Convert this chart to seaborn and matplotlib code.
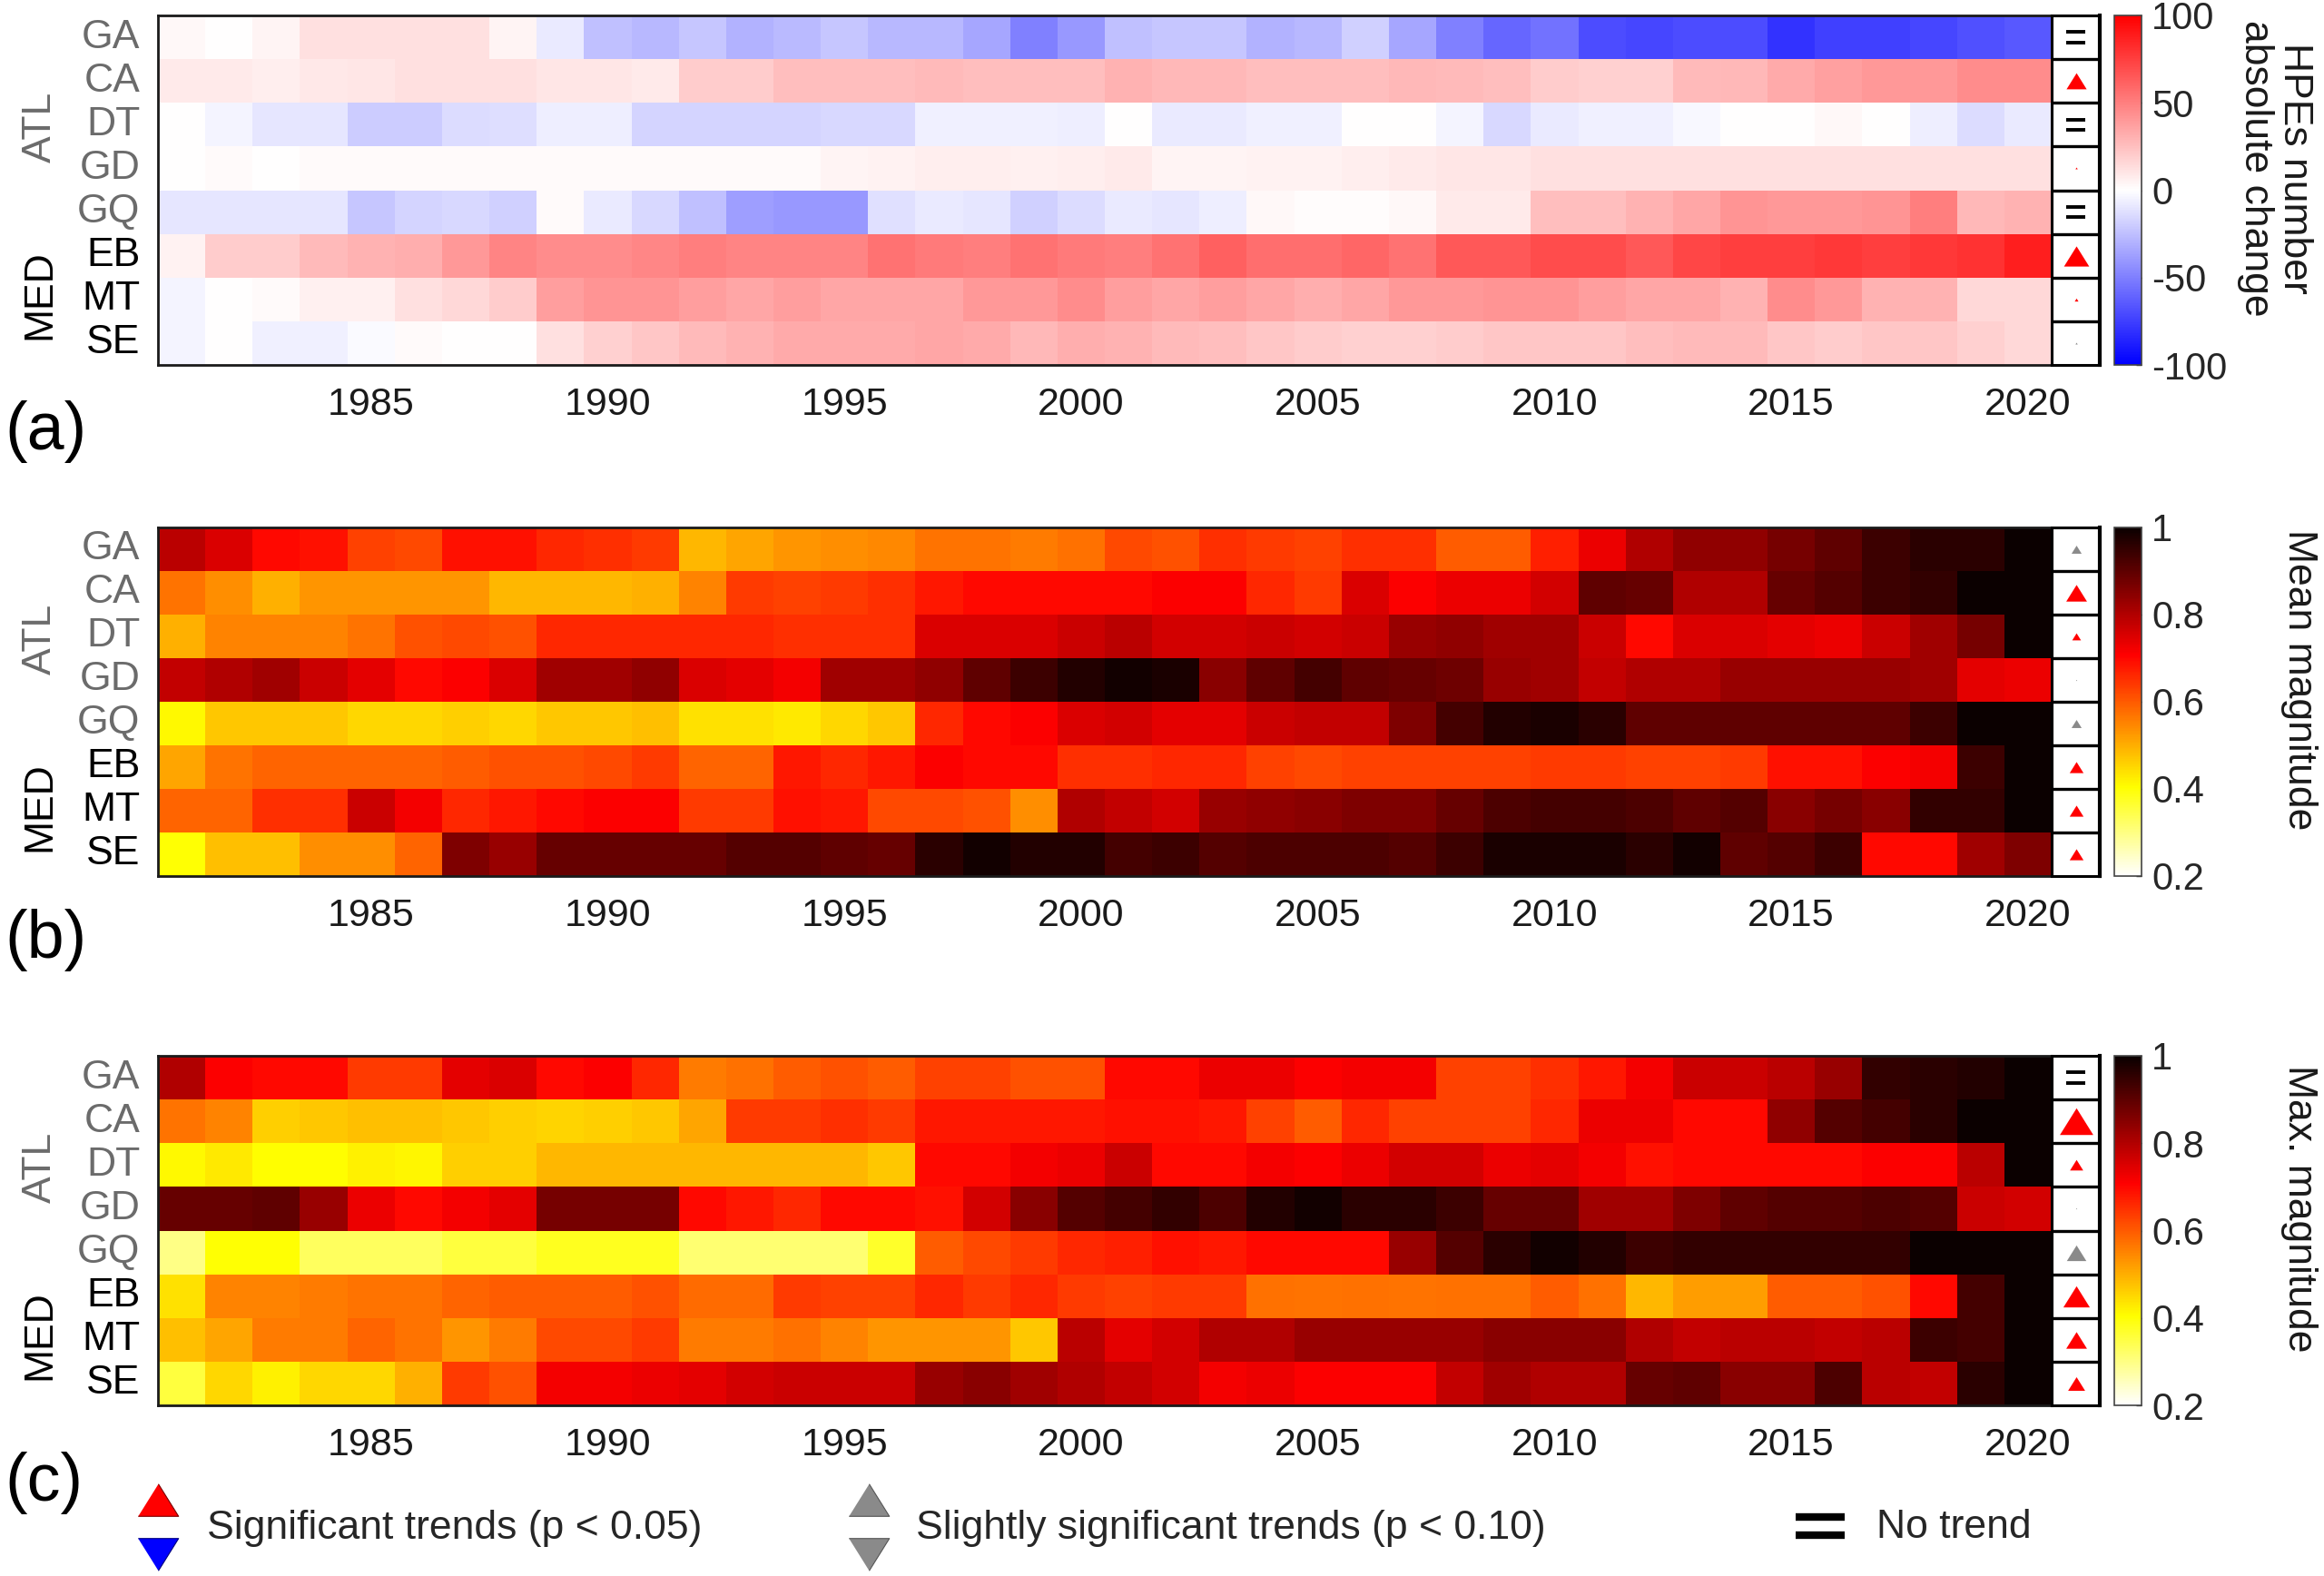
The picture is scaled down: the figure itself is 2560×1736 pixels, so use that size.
import numpy as np
import pandas as pd
import matplotlib
matplotlib.use("Agg")
import matplotlib.pyplot as plt
import seaborn as sns
from matplotlib.transforms import blended_transform_factory

sns.set_style("white")
plt.rcParams['font.family'] = ['Liberation Sans', 'DejaVu Sans']

# ---------------- data ----------------
years = list(range(1981, 2021))
regions = ['GA', 'CA', 'DT', 'GD', 'GQ', 'EB', 'MT', 'SE']
region_colors = ['#6b6b6b'] * 5 + ['#000000'] * 3
tick_years = [1985, 1990, 1995, 2000, 2005, 2010, 2015, 2020]

# (a) HPEs number absolute change
a_GA = [3, 0, 4, 12, 12, 12, 12, 4, -8, -25, -28, -22, -30, -27, -22, -28, -28, -35, -50, -40, -25,
        -22, -22, -30, -28, -18, -35, -50, -60, -55, -70, -72, -70, -70, -80, -75, -75, -72, -68, -65]
a_CA = [8, 8, 7, 9, 10, 12, 12, 12, 10, 10, 8, 20, 20, 25, 25, 25, 27, 25, 25, 25, 30,
        28, 28, 25, 25, 25, 28, 27, 25, 20, 18, 18, 27, 28, 33, 37, 40, 40, 45, 45]
a_DT = [0, -4, -10, -10, -20, -20, -14, -13, -7, -7, -17, -17, -17, -17, -15, -15, -6, -6, -6, -7, 0,
        -8, -8, -6, -6, 0, 0, -4, -15, -8, -6, -6, -3, 0, 0, 3, 0, -7, -14, -8]
a_GD = [0, 2, 0, 2, 2, 2, 2, 2, 2, 2, 2, 2, 2, 2, 4, 5, 7, 7, 6, 7, 8,
        4, 4, 5, 5, 7, 8, 10, 10, 12, 12, 12, 12, 12, 12, 12, 12, 12, 12, 12]
a_GQ = [-10, -10, -10, -10, -22, -17, -15, -18, 2, -8, -15, -25, -38, -40, -40, -12, -8, -10, -18, -14, -8,
        -10, -7, 3, 1, 1, 3, 8, 8, 25, 25, 30, 35, 42, 40, 40, 42, 50, 28, 30]
a_EB = [5, 20, 20, 27, 30, 32, 40, 48, 45, 45, 47, 50, 48, 48, 48, 55, 52, 50, 55, 52, 50,
        55, 62, 57, 57, 60, 55, 65, 65, 70, 70, 65, 72, 75, 75, 78, 75, 78, 80, 88]
a_MT = [-4, 0, 2, 6, 6, 12, 15, 20, 38, 42, 42, 38, 35, 38, 35, 35, 35, 40, 40, 45, 38,
        35, 38, 35, 32, 35, 40, 40, 42, 42, 38, 35, 35, 30, 45, 40, 30, 30, 15, 15]
a_SE = [-4, 0, -6, -6, -2, 2, 0, 0, 12, 18, 22, 27, 30, 33, 33, 33, 35, 33, 28, 32, 30,
        27, 25, 22, 20, 18, 18, 20, 22, 22, 22, 25, 27, 27, 22, 20, 22, 22, 18, 15]

# (b) Mean magnitude
b_GA = [0.79, 0.75, 0.70, 0.69, 0.63, 0.62, 0.69, 0.69, 0.66, 0.65, 0.64, 0.49, 0.51, 0.53, 0.54, 0.545, 0.57, 0.57, 0.56, 0.575, 0.62,
        0.61, 0.65, 0.64, 0.63, 0.65, 0.65, 0.60, 0.60, 0.67, 0.73, 0.80, 0.84, 0.84, 0.87, 0.90, 0.94, 0.96, 0.96, 1.0]
b_CA = [0.57, 0.54, 0.50, 0.53, 0.53, 0.53, 0.53, 0.49, 0.49, 0.49, 0.50, 0.55, 0.64, 0.63, 0.64, 0.65, 0.68, 0.70, 0.70, 0.70, 0.70,
        0.71, 0.71, 0.66, 0.64, 0.75, 0.71, 0.73, 0.73, 0.76, 0.90, 0.89, 0.80, 0.80, 0.89, 0.91, 0.94, 0.95, 1.0, 1.0]
b_DT = [0.50, 0.55, 0.55, 0.55, 0.57, 0.61, 0.62, 0.61, 0.66, 0.66, 0.66, 0.66, 0.66, 0.65, 0.65, 0.65, 0.75, 0.75, 0.75, 0.77, 0.79,
        0.76, 0.76, 0.77, 0.76, 0.77, 0.83, 0.84, 0.82, 0.82, 0.77, 0.70, 0.75, 0.75, 0.74, 0.73, 0.77, 0.82, 0.87, 1.0]
b_GD = [0.78, 0.80, 0.82, 0.77, 0.74, 0.70, 0.71, 0.75, 0.82, 0.82, 0.84, 0.75, 0.74, 0.72, 0.82, 0.82, 0.84, 0.90, 0.94, 0.97, 0.99,
        0.98, 0.85, 0.90, 0.93, 0.90, 0.89, 0.88, 0.83, 0.82, 0.78, 0.80, 0.80, 0.83, 0.83, 0.83, 0.83, 0.82, 0.74, 0.73]
b_GQ = [0.41, 0.47, 0.47, 0.47, 0.45, 0.45, 0.46, 0.45, 0.47, 0.47, 0.48, 0.44, 0.44, 0.43, 0.45, 0.47, 0.66, 0.70, 0.71, 0.75, 0.76,
        0.74, 0.74, 0.77, 0.78, 0.78, 0.86, 0.93, 0.97, 0.98, 0.96, 0.90, 0.90, 0.90, 0.90, 0.90, 0.90, 0.94, 1.0, 1.0]
b_EB = [0.51, 0.57, 0.59, 0.59, 0.59, 0.59, 0.60, 0.61, 0.61, 0.62, 0.64, 0.59, 0.59, 0.68, 0.66, 0.68, 0.71, 0.70, 0.70, 0.65, 0.65,
        0.66, 0.66, 0.63, 0.62, 0.63, 0.63, 0.63, 0.63, 0.64, 0.64, 0.63, 0.63, 0.64, 0.69, 0.69, 0.71, 0.72, 0.94, 1.0]
b_MT = [0.59, 0.59, 0.65, 0.65, 0.77, 0.72, 0.66, 0.68, 0.70, 0.71, 0.71, 0.64, 0.64, 0.69, 0.68, 0.62, 0.62, 0.61, 0.54, 0.80, 0.78,
        0.76, 0.83, 0.84, 0.85, 0.86, 0.86, 0.89, 0.92, 0.93, 0.93, 0.92, 0.90, 0.91, 0.85, 0.87, 0.85, 0.95, 0.95, 1.0]
b_SE = [0.40, 0.48, 0.48, 0.54, 0.54, 0.59, 0.86, 0.83, 0.89, 0.89, 0.89, 0.89, 0.91, 0.91, 0.90, 0.89, 0.96, 0.99, 0.97, 0.97, 0.93,
        0.94, 0.91, 0.92, 0.92, 0.92, 0.91, 0.94, 0.98, 0.98, 0.98, 0.96, 0.99, 0.90, 0.91, 0.94, 0.70, 0.70, 0.82, 0.86]

# (c) Max. magnitude
c_GA = [0.80, 0.71, 0.70, 0.70, 0.64, 0.64, 0.74, 0.75, 0.70, 0.71, 0.66, 0.56, 0.575, 0.60, 0.61, 0.60, 0.63, 0.63, 0.61, 0.61, 0.70,
        0.70, 0.73, 0.73, 0.71, 0.72, 0.72, 0.63, 0.63, 0.65, 0.68, 0.72, 0.77, 0.77, 0.79, 0.83, 0.95, 0.96, 0.97, 1.0]
c_CA = [0.57, 0.55, 0.46, 0.47, 0.48, 0.48, 0.47, 0.46, 0.455, 0.46, 0.47, 0.51, 0.64, 0.64, 0.65, 0.64, 0.68, 0.68, 0.68, 0.68, 0.69,
        0.69, 0.68, 0.63, 0.60, 0.66, 0.63, 0.63, 0.63, 0.66, 0.73, 0.73, 0.70, 0.70, 0.84, 0.91, 0.93, 0.96, 1.0, 1.0]
c_DT = [0.41, 0.43, 0.405, 0.405, 0.42, 0.415, 0.46, 0.46, 0.49, 0.49, 0.49, 0.49, 0.49, 0.49, 0.49, 0.47, 0.70, 0.70, 0.72, 0.73, 0.77,
        0.70, 0.70, 0.72, 0.71, 0.73, 0.76, 0.76, 0.73, 0.74, 0.72, 0.69, 0.70, 0.70, 0.70, 0.70, 0.71, 0.71, 0.79, 1.0]
c_GD = [0.89, 0.89, 0.90, 0.83, 0.73, 0.70, 0.72, 0.74, 0.87, 0.87, 0.87, 0.70, 0.68, 0.66, 0.70, 0.70, 0.69, 0.76, 0.85, 0.91, 0.93,
        0.95, 0.92, 0.97, 0.99, 0.96, 0.96, 0.94, 0.89, 0.89, 0.82, 0.82, 0.86, 0.90, 0.91, 0.91, 0.92, 0.91, 0.77, 0.76]
c_GQ = [0.30, 0.40, 0.40, 0.33, 0.33, 0.33, 0.355, 0.355, 0.38, 0.38, 0.38, 0.315, 0.315, 0.315, 0.315, 0.37, 0.60, 0.62, 0.64, 0.66, 0.67,
        0.69, 0.68, 0.70, 0.70, 0.70, 0.83, 0.91, 0.96, 0.99, 0.97, 0.94, 0.95, 0.95, 0.95, 0.95, 0.95, 1.0, 1.0, 1.0]
c_EB = [0.44, 0.55, 0.55, 0.56, 0.57, 0.57, 0.59, 0.60, 0.60, 0.60, 0.61, 0.58, 0.58, 0.64, 0.63, 0.63, 0.66, 0.64, 0.66, 0.64, 0.63,
        0.64, 0.64, 0.575, 0.57, 0.575, 0.57, 0.575, 0.575, 0.60, 0.575, 0.49, 0.52, 0.52, 0.60, 0.60, 0.61, 0.70, 0.93, 1.0]
c_MT = [0.48, 0.51, 0.56, 0.56, 0.59, 0.57, 0.53, 0.56, 0.62, 0.62, 0.64, 0.56, 0.56, 0.575, 0.55, 0.53, 0.53, 0.53, 0.47, 0.79, 0.74,
        0.76, 0.80, 0.80, 0.83, 0.83, 0.83, 0.83, 0.85, 0.85, 0.85, 0.80, 0.78, 0.79, 0.79, 0.78, 0.79, 0.94, 0.93, 1.0]
c_SE = [0.355, 0.45, 0.42, 0.45, 0.45, 0.50, 0.64, 0.61, 0.72, 0.72, 0.73, 0.74, 0.76, 0.77, 0.77, 0.77, 0.83, 0.85, 0.82, 0.80, 0.78,
        0.76, 0.72, 0.73, 0.71, 0.71, 0.71, 0.78, 0.82, 0.80, 0.80, 0.89, 0.90, 0.85, 0.85, 0.92, 0.79, 0.78, 0.96, 1.0]

# trend symbols per region: 'eq' = no trend, 'sig' = p<0.05, 'slight' = p<0.10; size = marker size (pt)
trend_a_kind = ['eq', 'sig', 'eq', 'sig', 'eq', 'sig', 'sig', 'slight']
trend_a_size = [0, 16, 0, 1.8, 0, 20, 3, 1.8]
trend_b_kind = ['slight', 'sig', 'sig', 'slight', 'slight', 'sig', 'sig', 'sig']
trend_b_size = [8, 16.5, 7, 1, 8, 11, 11, 11]
trend_c_kind = ['eq', 'sig', 'sig', 'slight', 'slight', 'sig', 'sig', 'sig']
trend_c_size = [0, 26.5, 10.5, 1, 15.5, 21, 16.5, 13.5]

panels = [
    dict(data=[a_GA, a_CA, a_DT, a_GD, a_GQ, a_EB, a_MT, a_SE], cmap='bwr', vmin=-100, vmax=100,
         cticks=[-100, -50, 0, 50, 100], cticklabels=['-100', '-50', '0', '50', '100'],
         clabel='HPEs number\nabsolute change', kind=trend_a_kind, size=trend_a_size, tag='(a)'),
    dict(data=[b_GA, b_CA, b_DT, b_GD, b_GQ, b_EB, b_MT, b_SE], cmap='hot_r', vmin=0.2, vmax=1.0,
         cticks=[0.2, 0.4, 0.6, 0.8, 1.0], cticklabels=['0.2', '0.4', '0.6', '0.8', '1'],
         clabel='Mean magnitude', kind=trend_b_kind, size=trend_b_size, tag='(b)'),
    dict(data=[c_GA, c_CA, c_DT, c_GD, c_GQ, c_EB, c_MT, c_SE], cmap='hot_r', vmin=0.2, vmax=1.0,
         cticks=[0.2, 0.4, 0.6, 0.8, 1.0], cticklabels=['0.2', '0.4', '0.6', '0.8', '1'],
         clabel='Max. magnitude', kind=trend_c_kind, size=trend_c_size, tag='(c)'),
]

# ---------------- layout ----------------
W, H = 2560, 1736
fig = plt.figure(figsize=(W / 100, H / 100), dpi=100)

hm_left, hm_right = 174 / W, 2260 / W
tr_right = 2313 / W
cb_left, cb_w = 2329 / W, 30 / W
panel_tops = [17, 581, 1163]
panel_bottoms = [402, 965, 1548]
clabel_x = [2506 / W, 2532 / W, 2532 / W]
tag_y = [1 - 476 / H, 1 - 1036 / H, 1 - 1634 / H]

tri_up = [(-1, -0.8), (1, -0.8), (0, 0.8)]
tri_dn = [(-1, 0.8), (1, 0.8), (0, -0.8)]
RED, BLUE, GRAY = '#ff0000', '#0000ff', '#8a8a8a'
fs = 31

for p, top, bot, clx, tgy in zip(panels, panel_tops, panel_bottoms, clabel_x, tag_y):
    y0 = 1 - bot / H
    h = (bot - top) / H
    ax = fig.add_axes([hm_left, y0, hm_right - hm_left, h])
    tax = fig.add_axes([hm_right, y0, tr_right - hm_right, h])
    cax = fig.add_axes([cb_left, y0, cb_w, h])

    df = pd.DataFrame(p['data'], index=regions, columns=years)
    sns.heatmap(df, ax=ax, cmap=p['cmap'], vmin=p['vmin'], vmax=p['vmax'],
                cbar_ax=cax, xticklabels=False, yticklabels=regions, linewidths=0)
    ax.set_xticks([years.index(y) + 0.5 for y in tick_years])
    ax.set_xticklabels([str(y) for y in tick_years], fontsize=fs, color='#1a1a1a')
    ax.set_yticklabels(regions, rotation=0, fontsize=fs + 1)
    for lbl, col in zip(ax.get_yticklabels(), region_colors):
        lbl.set_color(col)
    ax.tick_params(axis='x', length=0, pad=17)
    ax.tick_params(axis='y', length=0, pad=14)
    ax.set_xlabel('')
    ax.set_ylabel('')
    for s in ax.spines.values():
        s.set_visible(True)
        s.set_color('#1a1a1a')
        s.set_linewidth(2.0)

    # group labels
    btr = blended_transform_factory(fig.transFigure, ax.transData)
    ax.text(44 / W, 2.55, 'ATL', transform=btr, rotation=90, ha='center', va='center',
            fontsize=fs + 1, color='#6b6b6b')
    ax.text(44 / W, 6.4, 'MED', transform=btr, rotation=90, ha='center', va='center',
            fontsize=fs + 1, color='black')

    # trend column
    tax.set_xlim(0, 1)
    tax.set_ylim(len(regions), 0)
    tax.set_xticks([])
    tax.set_yticks([])
    tax.set_facecolor('white')
    for s in tax.spines.values():
        s.set_visible(True)
        s.set_color('black')
        s.set_linewidth(2.2)
    tax.spines['right'].set_linewidth(3.0)
    tax.hlines(np.arange(1, len(regions)), 0, 1, color='black', lw=2.4)
    for i, (k, sz) in enumerate(zip(p['kind'], p['size'])):
        yc = i + 0.5
        if k == 'eq':
            tax.hlines([yc - 0.12, yc + 0.12], 0.31, 0.69, color='black', lw=2.8)
        else:
            col = RED if k == 'sig' else GRAY
            tax.scatter([0.5], [yc], marker=tri_up, s=sz ** 2, color=col, linewidths=0)

    # colorbar
    cbar = ax.collections[0].colorbar
    cbar.set_ticks(p['cticks'])
    cbar.set_ticklabels(p['cticklabels'])
    cbar.ax.tick_params(labelsize=fs - 1, length=4, width=1, color='#333333', pad=8,
                        direction='in')
    cbar.outline.set_linewidth(1.2)
    cbar.outline.set_edgecolor('#444444')
    fig.text(clx, y0 + h / 2 + 24 / H, p['clabel'], rotation=270, ha='center', va='center',
             fontsize=fs + 1, color='#1a1a1a', linespacing=1.05)

    fig.text(5 / W, tgy, p['tag'], ha='left', va='center', fontsize=53, color='black')

# ---------------- legend ----------------
lax = fig.add_axes([0, 0, 1, 0.085])
lax.set_xlim(0, W)
lax.set_ylim(H, H - 0.085 * H)
lax.axis('off')
ms = 32
lax.scatter([174], [1652], marker=tri_up, s=ms ** 2, color=RED, edgecolors='#7a0000', linewidths=0.8)
lax.scatter([174], [1712], marker=tri_dn, s=ms ** 2, color=BLUE, edgecolors='#00007a', linewidths=0.8)
lax.text(228, 1683, 'Significant trends (p < 0.05)', ha='left', va='center', fontsize=fs + 1)
lax.scatter([957], [1652], marker=tri_up, s=ms ** 2, color=GRAY, edgecolors='#555555', linewidths=0.8)
lax.scatter([957], [1712], marker=tri_dn, s=ms ** 2, color=GRAY, edgecolors='#555555', linewidths=0.8)
lax.text(1009, 1683, 'Slightly significant trends (p < 0.10)', ha='left', va='center', fontsize=fs + 1)
lax.plot([1978, 2032], [1671, 1671], color='black', lw=6, solid_capstyle='butt')
lax.plot([1978, 2032], [1691, 1691], color='black', lw=6, solid_capstyle='butt')
lax.text(2067, 1683, 'No trend', ha='left', va='center', fontsize=fs + 1)

fig.savefig('out.png', dpi=100, facecolor='white')
